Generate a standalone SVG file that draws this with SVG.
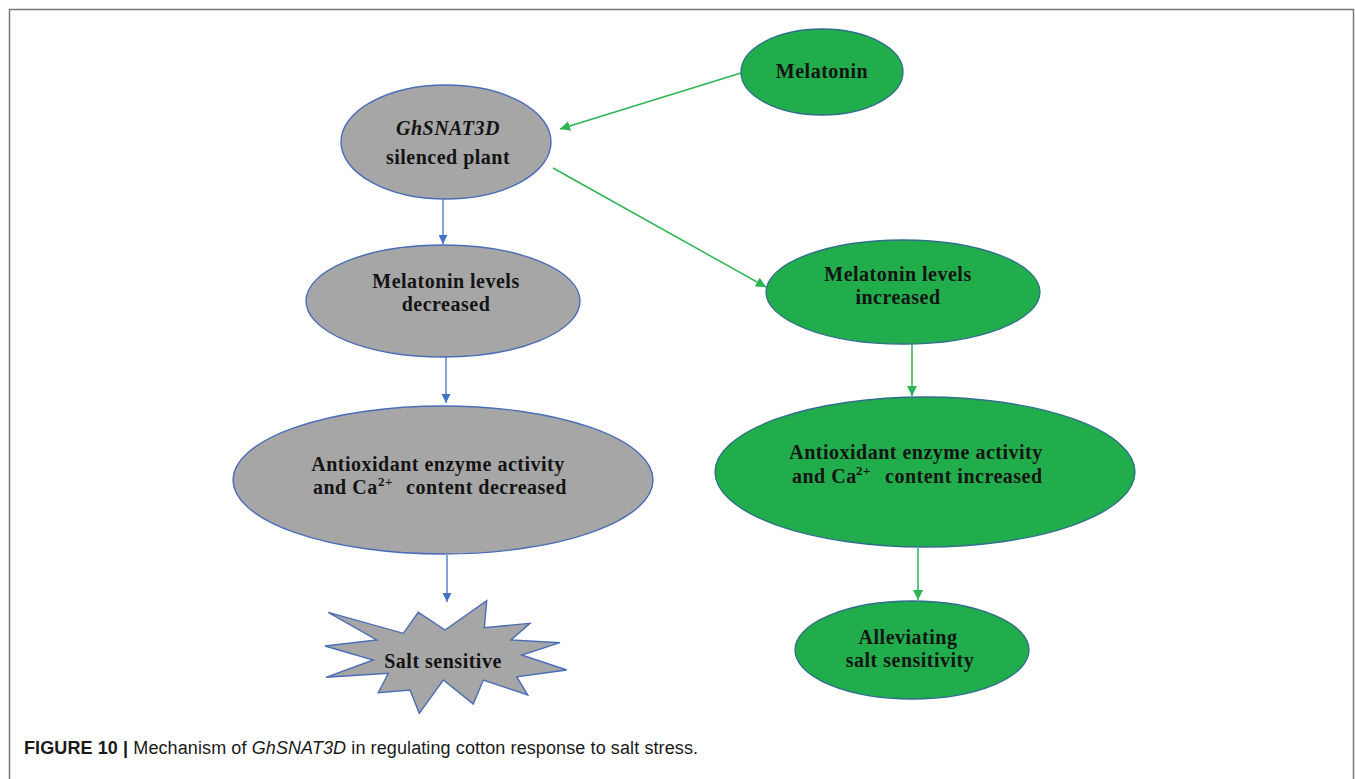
<svg xmlns="http://www.w3.org/2000/svg" width="1355" height="779" viewBox="0 0 1355 779">
<style>
.gray{fill:#a6a6a6;stroke:#4a6db8;stroke-width:1.4}
.green{fill:#21ad4b;stroke:#2f6f8c;stroke-width:1.3}
.lbl{font-family:"Liberation Serif","Times New Roman",serif;font-weight:bold;font-size:20px;letter-spacing:0.5px;fill:#141414;text-anchor:middle}
.sup{font-size:13px}
.cb{stroke:#4472c4;stroke-width:1.3;fill:none}
.cg{stroke:#2bb552;stroke-width:1.5;fill:none}
.cap{font-family:"Liberation Sans",Arial,sans-serif;font-size:18px;fill:#1a1a1a}
</style>
<defs>
<marker id="ab" viewBox="0 0 10 10" refX="10" refY="5" markerWidth="9" markerHeight="9" markerUnits="userSpaceOnUse" orient="auto"><path d="M0,0 L10,5 L0,10 z" fill="#4472c4"/></marker>
<marker id="ag" viewBox="0 0 10 10" refX="10" refY="5" markerWidth="10" markerHeight="10" markerUnits="userSpaceOnUse" orient="auto"><path d="M0,0 L10,5 L0,10 z" fill="#2bb552"/></marker>
</defs>
<rect width="1355" height="779" fill="#ffffff"/>
<path d="M9.5,779 V9.5 H1353.5 V779" fill="none" stroke="#777777" stroke-width="1.5"/>

<g id="connectors">
<line class="cg" x1="741" y1="73" x2="560" y2="129" marker-end="url(#ag)"/>
<line class="cg" x1="553" y1="168" x2="766" y2="287" marker-end="url(#ag)"/>
<line class="cb" x1="443" y1="199" x2="443" y2="244" marker-end="url(#ab)"/>
<line class="cb" x1="446" y1="357" x2="446" y2="403" marker-end="url(#ab)"/>
<line class="cb" x1="447" y1="555" x2="447" y2="602" marker-end="url(#ab)"/>
<line class="cg" x1="912" y1="344" x2="912" y2="396" marker-end="url(#ag)"/>
<line class="cg" x1="918" y1="548" x2="918" y2="600" marker-end="url(#ag)"/>
</g>

<g id="melatonin">
<ellipse class="green" cx="822" cy="72" rx="81" ry="43"/>
<text class="lbl" x="822" y="78">Melatonin</text>
</g>

<g id="silenced-plant">
<ellipse class="gray" cx="446" cy="142" rx="105" ry="57"/>
<text class="lbl" x="448" y="135" font-style="italic">GhSNAT3D</text>
<text class="lbl" x="448" y="164">silenced plant</text>
</g>

<g id="melatonin-decreased">
<ellipse class="gray" cx="443" cy="301" rx="137" ry="56"/>
<text class="lbl" x="446" y="288">Melatonin levels</text>
<text class="lbl" x="446" y="311">decreased</text>
</g>

<g id="antioxidant-decreased">
<ellipse class="gray" cx="443" cy="480" rx="210" ry="74"/>
<text class="lbl" x="438" y="471">Antioxidant enzyme activity</text>
<text class="lbl" y="494" style="text-anchor:start"><tspan x="313">and Ca</tspan><tspan x="378" dy="-8" class="sup">2+</tspan><tspan x="406" dy="8">content decreased</tspan></text>
</g>

<g id="salt-sensitive">
<polygon class="gray" points="328.3,612.3 403.3,633.3 418.3,612.3 445,630 486.7,600.7 484.3,627.7 530,623.3 511,640 560,642.7 521.7,655 566.7,670 516.7,676.7 527.7,695 483.3,680 473.3,704 443.3,680 419.3,713.3 410,690 378.3,692.7 388.3,673.3 326,677.3 373.3,660 325,646 376.7,640"/>
<text class="lbl" x="443" y="668">Salt sensitive</text>
</g>

<g id="melatonin-increased">
<ellipse class="green" cx="903" cy="292" rx="137" ry="52"/>
<text class="lbl" x="898" y="281">Melatonin levels</text>
<text class="lbl" x="898" y="304">increased</text>
</g>

<g id="antioxidant-increased">
<ellipse class="green" cx="925" cy="472" rx="210" ry="75"/>
<text class="lbl" x="916" y="459">Antioxidant enzyme activity</text>
<text class="lbl" y="483" style="text-anchor:start"><tspan x="792">and Ca</tspan><tspan x="856" dy="-8" class="sup">2+</tspan><tspan x="885" dy="8">content increased</tspan></text>
</g>

<g id="alleviating">
<ellipse class="green" cx="912" cy="650" rx="117" ry="49"/>
<text class="lbl" x="908" y="644">Alleviating</text>
<text class="lbl" x="910" y="667">salt sensitivity</text>
</g>

<text class="cap" x="24" y="754" textLength="674" lengthAdjust="spacing"><tspan font-weight="bold">FIGURE 10 | </tspan>Mechanism of <tspan font-style="italic">GhSNAT3D</tspan> in regulating cotton response to salt stress.</text>
</svg>
